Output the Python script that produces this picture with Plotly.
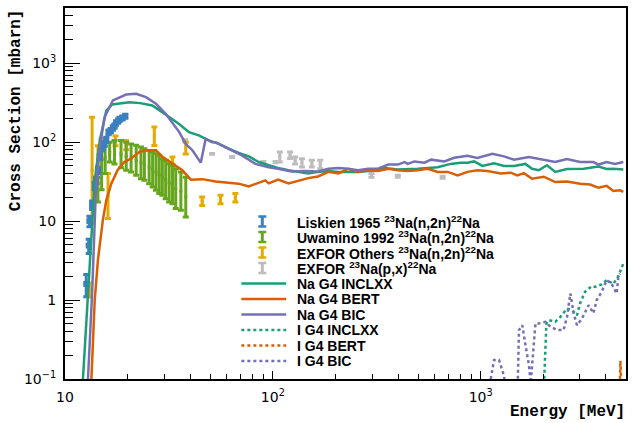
import plotly.graph_objects as go
import numpy as np

# ---------------- data ----------------
# Na G4 INCLXX
inclxx_E = [12.2, 13.6, 13.9, 14.7, 15.8, 16.9, 18.3, 20.4, 23.0, 26.3, 29.0, 31.7, 35.4, 39.5, 44, 49.2, 55, 61.4,
            68.5, 76.6, 85.5, 95.5, 106, 119, 133, 148, 165, 185, 207, 230, 257, 287, 321, 344, 399, 446, 498, 556,
            621, 716, 800, 863, 929, 1019, 1159, 1294, 1446, 1641, 1766, 1901, 2084, 2283, 2600, 3126, 3685, 4036,
            4345, 4853]
inclxx_S = [0.1, 15, 32, 105, 251, 300, 308, 320, 312, 291, 245, 207, 170, 134, 122, 105, 95, 83,
            73, 66, 56, 51, 47, 44, 42, 40, 42, 43, 42, 42, 42, 43, 46, 47, 45, 45, 46, 47,
            48, 53, 55, 55, 57, 50, 54, 50, 50, 53, 46, 44, 51, 42, 45.6, 46, 49, 45.6,
            46, 45]
# Na G4 BERT
bert_E = [13.4, 13.6, 13.9, 14.4, 15.2, 15.8, 16.7, 17.9, 19.3, 20.8, 22.8, 24.5, 27.4, 29.4, 32.9, 36.7, 40.3,
          45.8, 53, 61.4, 68.5, 76.6, 85.5, 92, 95.5, 106, 119, 133, 148, 165, 185, 207, 230, 257, 287, 321, 359,
          399, 445, 498, 556, 621, 694, 775, 863, 964, 1076, 1247, 1393, 1500, 1614, 1766, 2010, 2283, 2600, 3006,
          3357, 3685, 4036, 4345, 4677, 4853]
bert_S = [0.1, 0.31, 1.0, 3.2, 10.2, 18.3, 29.8, 44, 56, 62, 75, 79, 79, 65, 53, 44, 33.5,
          34, 31.8, 31, 29.8, 27.5, 31, 32.8, 30, 33.5, 30, 32.8, 35, 36.8, 42, 40, 46, 42, 44, 43, 46,
          44, 43, 44, 46, 42, 42, 38, 42, 44, 43, 40, 41, 38, 40.5, 34.4, 36.5, 31.2, 31.8, 29.8,
          29, 26.5, 28, 24, 24.5, 23.4]
# Na G4 BIC
bic_E = [12.9, 13.5, 14.1, 14.7, 15.5, 17.0, 19.7, 22.0, 24.5, 27.4, 30.5, 35.4, 38.1, 41, 45, 47.5, 51, 53,
         59.2, 71, 82.4, 95.5, 106, 123, 143, 165, 185, 207, 230, 257, 287, 321, 359, 399, 430, 445, 480, 536,
         577, 668, 746, 863, 964, 1138, 1294, 1446, 1706, 2010, 2283, 2600, 3006, 3483, 3685, 4036, 4425, 4853]
bic_S = [0.1, 1.2, 27, 86, 207, 337, 401, 409, 371, 306, 229, 135, 95, 79, 55, 110, 100, 100,
         86, 68, 53, 48, 46, 42.6, 43, 42.6, 46, 47, 46, 44, 46, 46, 52, 52, 56, 53, 57, 55,
         60, 57, 63.5, 67, 63, 71, 66, 60, 65, 60, 56, 61, 56, 56, 52, 56, 53, 56]
# I G4 INCLXX
i_inclxx_E = [2000, 2070, 2124, 2283, 2415, 2600, 2746, 2904, 3006, 3177, 3420, 3550, 3820, 4036, 4345, 4590, 4853]
i_inclxx_S = [0.05, 0.5, 0.557, 0.53, 0.61, 0.78, 0.75, 0.64, 0.906, 1.27, 1.5, 1.47, 1.58, 1.79, 1.6, 2.0, 2.9]
# I G4 BERT
i_bert_E = [4650, 4700, 4780]
i_bert_S = [0.05, 0.17, 0.05]
# I G4 BIC
i_bic_E = [1117, 1159, 1225, 1294, 1343, 1500, 1528, 1585, 1641, 1706, 1740, 1834, 1901, 2048, 2163, 2328, 2506,
           2600, 2698, 2800, 2904, 3068, 3305, 3483, 3614, 3820, 4036, 4266, 4508, 4590, 4677]
i_bic_S = [0.1, 0.174, 0.174, 0.11, 0.05, 0.05, 0.417, 0.48, 0.27, 0.15, 0.09, 0.506, 0.506, 0.53, 0.46, 0.417, 0.417,
           0.61, 1.21, 0.68, 0.48, 0.58, 0.86, 0.68, 1.0, 1.27, 1.79, 1.6, 1.21, 1.96, 2.16]

# Liskien 1965 23Na(n,2n)22Na
lis_E = [12.65, 13.0, 13.1, 13.5, 13.9, 14.1, 14.4, 14.7, 15.1, 15.5, 15.8, 16.2, 16.6, 17.0, 17.3, 17.6, 18.0,
         18.3, 18.9, 19.5]
lis_S = [1.6, 4.9, 10, 16, 28, 33, 44, 65, 83, 95, 107, 133, 140, 151, 160, 175, 185, 194, 203, 213]
lis_err = [0.5, 1.0, 1.5, 2, 3, 3, 4, 5, 6, 7, 8, 9, 9, 10, 10, 11, 11, 12, 12, 13]

# Uwamino 1992 23Na(n,2n)22Na
uwa_E = [14.4, 15.0, 15.6, 16.4, 17.3, 18.6, 19.7, 20.8, 22.0, 23.2, 24.1, 25.4, 26.4, 27.4, 28.4, 29.4, 30.5,
         31.7, 32.9, 34.1, 36.1, 38.1]
uwa_lo = [17.4, 25, 40, 56, 53, 47.5, 44, 42, 38, 34.4, 32.8, 29.8, 27, 24.5, 22.3, 21.2, 19.2,
          17.4, 16.6, 14.4, 13.7, 11.3]
uwa_hi = [36, 90, 100, 100, 105, 105, 100, 95, 91, 86.5, 82.5, 78.5, 74.8, 71.3, 68, 61.7, 58.8,
          53.3, 50.7, 46, 41.8, 36]

# EXFOR Others 23Na(n,2n)22Na
oth_E = [13.1, 13.5, 14.4, 15.0, 16.1, 17.5, 19.7, 26.9, 32.9, 38.1, 45.7, 56, 66]
oth_lo = [1.09, 9.4, 30, 60, 10.8, 90, 80, 90.8, 53, 71, 15.8, 16.6, 17.4]
oth_hi = [1.64, 207, 90, 110, 40, 120, 105, 155, 65, 100, 20.2, 21.2, 22.3]

# EXFOR 23Na(p,x)22Na
px_E = [37.8, 51, 63.7, 90, 103, 108, 121, 128, 138, 154, 169, 298, 399, 656]
px_lo = [103, 70, 64, 55, 55, 56, 62, 53, 48.5, 48.5, 46, 36, 36, 35]
px_hi = [107, 72, 66, 57, 57, 75, 75, 65, 61.7, 58.8, 58.8, 40, 38, 37]

# tick labels
x_tickvals = [10, 100, 1000]
x_ticktext = ["10", "10<sup>2</sup>", "10<sup>3</sup>"]
y_tickvals = [0.1, 1, 10, 100, 1000]
y_ticktext = ["10<sup>\u22121</sup>", "1", "10", "10<sup>2</sup>", "10<sup>3</sup>"]

# ---------------- style ----------------
C_INCL = "#1b9e77"
C_BERT = "#d95f02"
C_BIC = "#7570b3"
C_LIS = "#3a7fc0"
C_UWA = "#66a61e"
C_OTH = "#e6ab02"
C_PX = "#bdbdbd"


def geo(lo, hi):
    c = [float(np.sqrt(a * b)) for a, b in zip(lo, hi)]
    return c, [h - m for h, m in zip(hi, c)], [m - l for m, l in zip(c, lo)]


fig = go.Figure()


def add_points(E, S, ep, em, color, symbol="square", size=3):
    fig.add_trace(go.Scatter(
        x=E, y=S, mode="markers", showlegend=False,
        marker=dict(color=color, size=size, symbol=symbol),
        error_y=dict(type="data", array=ep, arrayminus=em, color=color, thickness=3, width=3),
    ))


pc, pp, pm = geo(px_lo, px_hi)
add_points(px_E, pc, pp, pm, C_PX)
oc, op_, om = geo(oth_lo, oth_hi)
add_points(oth_E, oc, op_, om, C_OTH)
uc, up, um = geo(uwa_lo, uwa_hi)
add_points(uwa_E, uc, up, um, C_UWA)
add_points(lis_E, lis_S, lis_err, lis_err, C_LIS, size=6)


def add_line(E, S, color, dash="solid"):
    fig.add_trace(go.Scatter(x=E, y=S, mode="lines", showlegend=False,
                             line=dict(color=color, width=2.5, dash=dash)))


add_line(inclxx_E, inclxx_S, C_INCL)
add_line(bert_E, bert_S, C_BERT)
add_line(bic_E, bic_S, C_BIC)
add_line(i_inclxx_E, i_inclxx_S, C_INCL, "dot")
add_line(i_bert_E, i_bert_S, C_BERT, "dot")
add_line(i_bic_E, i_bic_S, C_BIC, "dot")

# ---------------- layout ----------------
W, H = 633, 423
ML, MR, MT, MB = 65, 5, 8, 44
PW, PH = W - ML - MR, H - MT - MB


def px(xp):
    return (xp - ML) / PW


def py(yp):
    return (H - MB - yp) / PH


x_minor = [m * 10 ** d for d in (1, 2, 3) for m in range(2, 10) if m * 10 ** d < 5000]
y_minor = [m * 10.0 ** d for d in (-1, 0, 1, 2, 3) for m in range(2, 10) if m * 10 ** d < 5000]

fig.update_layout(
    width=W, height=H,
    margin=dict(l=ML, r=MR, t=MT, b=MB),
    paper_bgcolor="white", plot_bgcolor="white",
    showlegend=False,
    xaxis=dict(type="log", range=[1, np.log10(5000)], showgrid=False, zeroline=False,
               showline=True, linecolor="black", linewidth=2, mirror=True,
               tickmode="array", tickvals=x_tickvals, ticktext=x_ticktext,
               ticks="inside", ticklen=8, tickwidth=1, tickcolor="black",
               minor=dict(tickmode="array", tickvals=x_minor, ticks="inside", ticklen=5, tickcolor="black"),
               tickfont=dict(family="DejaVu Sans", size=14, color="black"), ticklabelstandoff=4),
    yaxis=dict(type="log", range=[-1, np.log10(5000)], showgrid=False, zeroline=False,
               showline=True, linecolor="black", linewidth=2, mirror=True,
               tickmode="array", tickvals=y_tickvals, ticktext=y_ticktext,
               ticks="inside", ticklen=15, tickwidth=1, tickcolor="black",
               minor=dict(tickmode="array", tickvals=y_minor, ticks="inside", ticklen=8, tickcolor="black"),
               tickfont=dict(family="DejaVu Sans", size=14, color="black"), ticklabelstandoff=4),
)

# axis titles (ROOT style, aligned to axis ends)
fig.add_annotation(text="<b>Cross Section [mbarn]</b>", textangle=-90, xref="paper", yref="paper",
                   x=px(16), y=py(7), xanchor="center", yanchor="top", showarrow=False,
                   font=dict(family="Liberation Mono", size=16, color="black"))
fig.add_annotation(text="<b>Energy [MeV]</b>", xref="paper", yref="paper",
                   x=px(629), y=py(412), xanchor="right", yanchor="middle", showarrow=False,
                   font=dict(family="Liberation Mono", size=16, color="black"))

# ---------------- legend ----------------
leg_names = ["Liskien 1965 <sup>23</sup>Na(n,2n)<sup>22</sup>Na",
             "Uwamino 1992 <sup>23</sup>Na(n,2n)<sup>22</sup>Na",
             "EXFOR Others <sup>23</sup>Na(n,2n)<sup>22</sup>Na",
             "EXFOR <sup>23</sup>Na(p,x)<sup>22</sup>Na",
             "Na G4 INCLXX", "Na G4 BERT", "Na G4 BIC",
             "I G4 INCLXX", "I G4 BERT", "I G4 BIC"]
leg_colors = [C_LIS, C_UWA, C_OTH, C_PX, C_INCL, C_BERT, C_BIC, C_INCL, C_BERT, C_BIC]
leg_kind = ["err", "err", "err", "err", "line", "line", "line", "dot", "dot", "dot"]
row0, drow = 221.5, 15.5
for i, (name, col, kind) in enumerate(zip(leg_names, leg_colors, leg_kind)):
    yc = row0 + i * drow
    fig.add_annotation(text="<b>" + name + "</b>", xref="paper", yref="paper", x=px(296), y=py(yc),
                       xanchor="left", yanchor="middle", showarrow=False,
                       font=dict(family="Liberation Sans", size=14, color="black"))
    if kind == "err":
        xc = 263
        fig.add_shape(type="line", xref="paper", yref="paper", x0=px(xc), x1=px(xc), y0=py(yc - 5), y1=py(yc + 5),
                      line=dict(color=col, width=3))
        for yy in (yc - 5, yc + 5):
            fig.add_shape(type="line", xref="paper", yref="paper", x0=px(xc - 4), x1=px(xc + 4), y0=py(yy), y1=py(yy),
                          line=dict(color=col, width=2.5))
    else:
        fig.add_shape(type="line", xref="paper", yref="paper", x0=px(242), x1=px(287), y0=py(yc), y1=py(yc),
                      line=dict(color=col, width=2.5, dash="solid" if kind == "line" else "dot"))

fig.write_html("out.html", config={"displayModeBar": False},
               post_script="document.body.style.margin='0';document.body.style.padding='0';")
